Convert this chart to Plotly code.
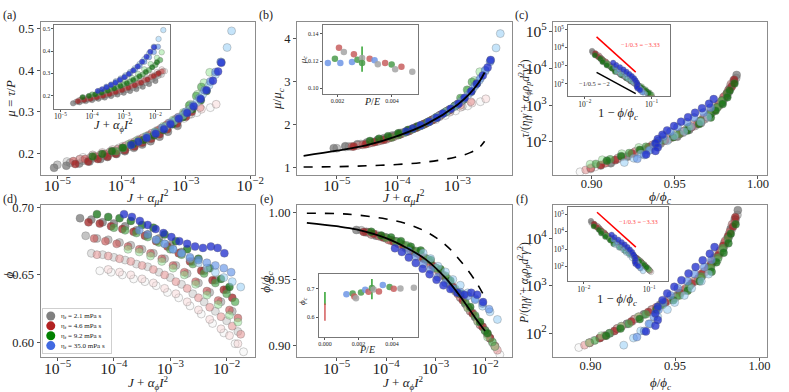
import plotly.graph_objects as go

W, H = 789, 392
FONT = "Liberation Serif"

# ---------------------------------------------------------------------------
# one run per (viscosity, confining pressure)
# xd : log10(J + a_phi I^2)   phi : packing fraction
# xa : log10(J + a_mu I^2)    mu  : tau / P
# ---------------------------------------------------------------------------
g0_xd = [-4.25, -4.05, -3.85, -3.65, -3.45, -3.25, -3.05, -2.85, -2.65, -2.45, -2.25, -2.05, -1.85, -1.7]
g0_phi = [0.653, 0.652, 0.650, 0.647, 0.645, 0.642, 0.637, 0.633, 0.627, 0.621, 0.614, 0.607, 0.599, 0.593]
g0_xa = [-4.6, -4.45, -4.3, -4.16, -4.04, -3.9, -3.78, -3.66, -3.53, -3.36, -3.2, -3.03, -2.83, -2.62]
g0_mu = [0.190, 0.195, 0.200, 0.206, 0.213, 0.221, 0.229, 0.238, 0.248, 0.259, 0.271, 0.284, 0.298, 0.310]

g1_xd = [-4.4, -4.2, -4.0, -3.8, -3.6, -3.4, -3.2, -3.0, -2.8, -2.6, -2.4, -2.2, -2.0, -1.8]
g1_phi = [0.666, 0.665, 0.663, 0.661, 0.658, 0.656, 0.652, 0.648, 0.643, 0.636, 0.630, 0.623, 0.616, 0.608]
g1_xa = [-4.85, -4.65, -4.48, -4.33, -4.19, -4.06, -3.94, -3.82, -3.71, -3.57, -3.44, -3.30, -3.12, -2.92]
g1_mu = [0.180, 0.185, 0.190, 0.196, 0.202, 0.209, 0.216, 0.224, 0.233, 0.243, 0.254, 0.266, 0.280, 0.294]

g2_xd = [-4.5, -4.3, -4.1, -3.9, -3.7, -3.5, -3.3, -3.1, -2.9, -2.7, -2.5, -2.3, -2.1, -1.9]
g2_phi = [0.679, 0.677, 0.676, 0.674, 0.672, 0.669, 0.666, 0.662, 0.657, 0.651, 0.644, 0.637, 0.630, 0.623]
g2_xa = [-5.0, -4.8, -4.6, -4.44, -4.28, -4.14, -4.02, -3.89, -3.75, -3.61, -3.48, -3.35, -3.19, -3.03]
g2_mu = [0.172, 0.177, 0.182, 0.188, 0.194, 0.201, 0.208, 0.216, 0.225, 0.234, 0.245, 0.257, 0.272, 0.289]

g3_xd = [-4.6, -4.4, -4.2, -4.0, -3.8, -3.6, -3.4, -3.2, -3.0, -2.8, -2.6, -2.4, -2.2, -2.0]
g3_phi = [0.692, 0.691, 0.689, 0.688, 0.686, 0.683, 0.680, 0.677, 0.672, 0.667, 0.660, 0.653, 0.646, 0.639]
g3_xa = [-5.05, -4.86, -4.66, -4.50, -4.33, -4.22, -4.08, -3.95, -3.81, -3.68, -3.55, -3.41, -3.28, -3.13]
g3_mu = [0.165, 0.170, 0.175, 0.180, 0.186, 0.191, 0.198, 0.205, 0.213, 0.221, 0.229, 0.240, 0.252, 0.266]

r0_xd = [-4.1, -3.9, -3.7, -3.5, -3.3, -3.1, -2.9, -2.7, -2.5, -2.3, -2.1, -1.95, -1.8]
r0_phi = [0.654, 0.652, 0.650, 0.647, 0.644, 0.640, 0.636, 0.630, 0.624, 0.617, 0.610, 0.605, 0.599]
r0_xa = [-4.45, -4.3, -4.14, -3.98, -3.85, -3.73, -3.58, -3.45, -3.3, -3.13, -2.95, -2.76, -2.53]
r0_mu = [0.196, 0.202, 0.209, 0.217, 0.225, 0.234, 0.244, 0.255, 0.267, 0.280, 0.294, 0.306, 0.318]

r1_xd = [-4.3, -4.1, -3.9, -3.7, -3.5, -3.3, -3.1, -2.9, -2.7, -2.5, -2.3, -2.1, -1.9, -1.75]
r1_phi = [0.665, 0.664, 0.662, 0.660, 0.657, 0.654, 0.650, 0.645, 0.640, 0.633, 0.626, 0.619, 0.612, 0.606]
r1_xa = [-4.65, -4.47, -4.32, -4.18, -4.06, -3.94, -3.80, -3.67, -3.53, -3.39, -3.27, -3.12, -2.95, -2.78]
r1_mu = [0.186, 0.191, 0.197, 0.203, 0.210, 0.218, 0.227, 0.237, 0.248, 0.260, 0.273, 0.287, 0.300, 0.310]

r2_xd = [-4.35, -4.15, -3.95, -3.75, -3.55, -3.35, -3.15, -2.95, -2.75, -2.55, -2.35, -2.15, -1.95, -1.8]
r2_phi = [0.677, 0.675, 0.673, 0.671, 0.669, 0.666, 0.662, 0.657, 0.652, 0.645, 0.638, 0.631, 0.624, 0.618]
r2_xa = [-4.75, -4.57, -4.41, -4.26, -4.13, -3.99, -3.85, -3.72, -3.57, -3.43, -3.30, -3.16, -3.03, -2.94]
r2_mu = [0.181, 0.186, 0.192, 0.198, 0.205, 0.213, 0.222, 0.232, 0.243, 0.255, 0.268, 0.282, 0.296, 0.308]

r3_xd = [-4.45, -4.25, -4.05, -3.85, -3.65, -3.45, -3.25, -3.05, -2.85, -2.65, -2.45, -2.25, -2.05, -1.9]
r3_phi = [0.689, 0.688, 0.686, 0.684, 0.682, 0.679, 0.675, 0.671, 0.666, 0.660, 0.653, 0.646, 0.639, 0.633]
r3_xa = [-4.72, -4.52, -4.37, -4.22, -4.09, -3.95, -3.80, -3.68, -3.54, -3.41, -3.29, -3.14, -3.0, -2.91]
r3_mu = [0.174, 0.180, 0.186, 0.192, 0.199, 0.207, 0.216, 0.225, 0.235, 0.246, 0.258, 0.272, 0.288, 0.300]

n0_xd = [-3.75, -3.55, -3.35, -3.15, -2.95, -2.75, -2.55, -2.35, -2.15, -1.95, -1.8]
n0_phi = [0.669, 0.667, 0.664, 0.660, 0.655, 0.650, 0.643, 0.635, 0.628, 0.620, 0.615]
n0_xa = [-3.88, -3.76, -3.62, -3.48, -3.35, -3.2, -3.04, -2.93, -2.82, -2.72, -2.63]
n0_mu = [0.222, 0.231, 0.241, 0.252, 0.265, 0.280, 0.298, 0.318, 0.342, 0.370, 0.395]

n1_xd = [-4.0, -3.8, -3.6, -3.4, -3.2, -3.0, -2.8, -2.6, -2.4, -2.2, -2.0, -1.85]
n1_phi = [0.685, 0.683, 0.681, 0.678, 0.674, 0.669, 0.665, 0.658, 0.651, 0.644, 0.636, 0.630]
n1_xa = [-4.09, -3.98, -3.86, -3.74, -3.59, -3.46, -3.33, -3.18, -3.02, -2.95, -2.84, -2.76]
n1_mu = [0.205, 0.212, 0.220, 0.229, 0.239, 0.250, 0.263, 0.278, 0.295, 0.315, 0.338, 0.360]

n2_xd = [-4.3, -4.1, -3.9, -3.7, -3.5, -3.3, -3.1, -2.9, -2.7, -2.5, -2.3, -2.1, -1.95]
n2_phi = [0.695, 0.693, 0.692, 0.690, 0.687, 0.685, 0.680, 0.675, 0.669, 0.662, 0.655, 0.647, 0.641]
n2_xa = [-4.45, -4.3, -4.15, -3.98, -3.82, -3.66, -3.5, -3.35, -3.21, -3.05, -2.9, -2.77, -2.68]
n2_mu = [0.192, 0.198, 0.205, 0.213, 0.222, 0.232, 0.243, 0.256, 0.270, 0.287, 0.306, 0.328, 0.350]

b0_xd = [-3.25, -3.1, -2.95, -2.8, -2.65, -2.5, -2.35, -2.2, -2.05, -1.9, -1.75]
b0_phi = [0.676, 0.673, 0.669, 0.666, 0.662, 0.659, 0.655, 0.652, 0.648, 0.645, 0.641]
b0_xa = [-3.31, -3.19, -3.05, -2.94, -2.83, -2.74, -2.64, -2.54, -2.45, -2.36, -2.29]
b0_mu = [0.265, 0.277, 0.291, 0.306, 0.323, 0.342, 0.364, 0.390, 0.420, 0.455, 0.495]

b1_xd = [-3.55, -3.4, -3.25, -3.1, -2.95, -2.8, -2.65, -2.5, -2.35, -2.2, -2.05, -1.92]
b1_phi = [0.683, 0.680, 0.676, 0.673, 0.669, 0.666, 0.663, 0.661, 0.659, 0.657, 0.655, 0.652]
b1_xa = [-3.61, -3.48, -3.37, -3.25, -3.12, -3.0, -2.89, -2.79, -2.71, -2.62, -2.54, -2.46]
b1_mu = [0.240, 0.250, 0.261, 0.273, 0.286, 0.300, 0.316, 0.333, 0.352, 0.373, 0.396, 0.420]

b2_xd = [-3.82, -3.68, -3.54, -3.40, -3.26, -3.12, -2.98, -2.84, -2.70, -2.56, -2.42, -2.28, -2.16, -2.04]
b2_phi = [0.695, 0.693, 0.690, 0.687, 0.684, 0.681, 0.678, 0.675, 0.673, 0.671, 0.670, 0.671, 0.670, 0.666]
b2_xa = [-3.85, -3.74, -3.61, -3.47, -3.34, -3.24, -3.11, -2.98, -2.88, -2.77, -2.68, -2.58, -2.50, -2.45]
b2_mu = [0.220, 0.228, 0.237, 0.247, 0.258, 0.270, 0.283, 0.297, 0.313, 0.331, 0.352, 0.375, 0.397, 0.418]

runs = [
    ("gray", 0, g0_xd, g0_phi, g0_xa, g0_mu), ("gray", 1, g1_xd, g1_phi, g1_xa, g1_mu),
    ("gray", 2, g2_xd, g2_phi, g2_xa, g2_mu), ("gray", 3, g3_xd, g3_phi, g3_xa, g3_mu),
    ("red", 0, r0_xd, r0_phi, r0_xa, r0_mu), ("red", 1, r1_xd, r1_phi, r1_xa, r1_mu),
    ("red", 2, r2_xd, r2_phi, r2_xa, r2_mu), ("red", 3, r3_xd, r3_phi, r3_xa, r3_mu),
    ("green", 0, n0_xd, n0_phi, n0_xa, n0_mu), ("green", 1, n1_xd, n1_phi, n1_xa, n1_mu),
    ("green", 2, n2_xd, n2_phi, n2_xa, n2_mu),
    ("blue", 0, b0_xd, b0_phi, b0_xa, b0_mu), ("blue", 1, b1_xd, b1_phi, b1_xa, b1_mu),
    ("blue", 2, b2_xd, b2_phi, b2_xa, b2_mu),
]
run_mu_c = [0.122, 0.121, 0.118, 0.113, 0.122, 0.122, 0.121, 0.116, 0.122, 0.120, 0.118, 0.120, 0.121, 0.119]
run_phi_c = [0.664, 0.676, 0.688, 0.701, 0.666, 0.676, 0.687, 0.699, 0.684, 0.698, 0.705, 0.697, 0.703, 0.714]

# inset (b): mu_c against P/E
pe_mu = [0.00164, 0.0019, 0.00205, 0.0021, 0.00223, 0.00253, 0.0026, 0.00273, 0.0029,
         0.0029, 0.00318, 0.00336, 0.00348, 0.00375, 0.00399, 0.00412, 0.00435, 0.00475]
mu_c_pts = [0.1187, 0.1218, 0.1298, 0.1187, 0.1267, 0.1194, 0.125, 0.1211, 0.1223,
            0.1187, 0.1218, 0.1206, 0.1177, 0.1187, 0.1175, 0.114, 0.1158, 0.1121]
mu_c_grp = ["blue", "green", "red", "blue", "gray", "blue", "red", "green", "gray",
            "green", "red", "blue", "gray", "red", "green", "gray", "red", "gray"]
mu_bar_pe, mu_bar_y, mu_bar_lo, mu_bar_hi = [0.0029], [0.1187], [0.1121], [0.1308]

# inset (e): phi_c against P/E, plus the P/E -> 0 extrapolations
pe_phi = [0.00128, 0.00165, 0.00175, 0.00185, 0.00215, 0.0024, 0.0026, 0.0028,
          0.0029, 0.00322, 0.00345, 0.00385, 0.0041, 0.0045, 0.0053]
phi_c_pts = [0.680, 0.683, 0.672, 0.666, 0.686, 0.696, 0.689, 0.702,
             0.697, 0.690, 0.712, 0.705, 0.699, 0.700, 0.703]
phi_c_grp = ["blue", "green", "red", "gray", "green", "blue", "red", "green",
             "gray", "red", "blue", "green", "red", "gray", "gray"]
phi_bar_pe, phi_bar_y, phi_bar_lo, phi_bar_hi = [0.0028], [0.702], [0.663], [0.733]
extrap_y = [0.659, 0.665, 0.622]
extrap_lo = [0.659, 0.643, 0.588]
extrap_hi = [0.659, 0.688, 0.648]

# fitted curves in (b) and (e)
fit_mu_x = [-5.55, -5.0, -4.5, -4.0, -3.5, -3.0, -2.8, -2.65, -2.55]
fit_mu_y = [1.28, 1.40, 1.53, 1.74, 2.03, 2.47, 2.72, 2.98, 3.22]
fit_mu_dash = [1.02, 1.03, 1.05, 1.08, 1.14, 1.26, 1.35, 1.46, 1.62]
fit_phi_x = [-5.6, -5.0, -4.6, -4.0, -3.6, -3.2, -2.8, -2.5, -2.2, -2.0]
fit_phi_y = [0.9926, 0.990, 0.9876, 0.981, 0.974, 0.965, 0.951, 0.937, 0.921, 0.911]
fit_phi_dash = [0.9998, 0.9995, 0.9985, 0.9955, 0.992, 0.986, 0.976, 0.964, 0.949, 0.936]

# power-law guides in the insets of (c) and (f)
guide_c_x = [0.015, 0.058]
guide_c_red = [4.0e4, 4.5e2]
guide_c_black = [4.3e2, 2.9e1]
guide_f_x = [0.0159, 0.0625]
guide_f_red = [1.26e5, 1.3e3]

legend_labels = ["η<sub>f</sub> = 2.1 mPa s", "η<sub>f</sub> = 4.6 mPa s",
                 "η<sub>f</sub> = 9.2 mPa s", "η<sub>f</sub> = 35.0 mPa s"]
legend_colors = ["#808080", "#b22222", "#008000", "#4169e1"]

palette = {
    "gray": ["rgba(235,235,235,0.30)", "rgba(200,200,200,0.55)", "rgba(160,160,160,0.62)", "rgba(115,115,115,0.72)"],
    "red": ["rgba(246,208,208,0.42)", "rgba(230,150,150,0.58)", "rgba(200,88,88,0.66)", "rgba(160,32,32,0.74)"],
    "green": ["rgba(150,228,150,0.52)", "rgba(70,165,70,0.64)", "rgba(15,110,15,0.74)"],
    "blue": ["rgba(150,205,245,0.55)", "rgba(95,145,232,0.64)", "rgba(30,45,205,0.76)"],
}
flat = {"gray": "rgba(165,165,165,0.85)", "red": "rgba(200,95,95,0.85)",
        "green": "rgba(75,155,75,0.85)", "blue": "rgba(110,150,230,0.85)"}
EDGE = "rgba(105,105,105,0.45)"

fig = go.Figure()


def px(x, y):
    return x / W, 1 - y / H


def axis_pair(n, box, xr, yr, xlog=False, ylog=False, xticks=None, yticks=None,
              xfmt=None, yfmt=None, fs=12.5, frame="#8c8c8c", showticks=True, xstand=-6):
    x0, y0, x1, y1 = box
    sx = "" if n == 1 else str(n)
    common = dict(showline=True, mirror=True, linecolor=frame, linewidth=1,
                  ticks="outside" if showticks else "", ticklen=3 if fs > 8 else 2,
                  tickwidth=0.8, tickcolor="#555", showgrid=False, zeroline=False,
                  showticklabels=showticks,
                  tickfont=dict(family=FONT, size=fs, color="#222"))
    xa = dict(domain=[x0 / W, x1 / W], range=xr, anchor="y" + sx,
              ticklabelstandoff=xstand, **common)
    ya = dict(domain=[1 - y1 / H, 1 - y0 / H], range=yr, anchor="x" + sx, **common)
    for ax, log, tv, fmt in ((xa, xlog, xticks, xfmt), (ya, ylog, yticks, yfmt)):
        if log:
            ax.update(type="log", dtick=1, exponentformat="power")
        elif tv is not None:
            ax.update(tickmode="array", tickvals=tv, tickformat=fmt)
    fig.update_layout({"xaxis" + sx: xa, "yaxis" + sx: ya})


def ref(n):
    return ("x", "y") if n == 1 else ("x%d" % n, "y%d" % n)


def dots(n, x, y, color, size=8, edge=EDGE):
    xr, yr = ref(n)
    fig.add_trace(go.Scatter(x=x, y=y, mode="markers", xaxis=xr, yaxis=yr,
                             marker=dict(size=size, color=color, line=dict(color=edge, width=0.7)),
                             showlegend=False, hoverinfo="skip"))


def curve(n, x, y, color="black", dash="solid", width=1.8, shape="spline"):
    xr, yr = ref(n)
    fig.add_trace(go.Scatter(x=x, y=y, mode="lines", xaxis=xr, yaxis=yr,
                             line=dict(color=color, width=width, dash=dash, shape=shape),
                             showlegend=False, hoverinfo="skip"))


def bars(n, x, y, lo, hi, color):
    xr, yr = ref(n)
    fig.add_trace(go.Scatter(x=x, y=y, mode="markers", xaxis=xr, yaxis=yr,
                             marker=dict(size=1, color="rgba(0,0,0,0)"),
                             error_y=dict(type="data", symmetric=False,
                                          array=[h - v for h, v in zip(hi, y)],
                                          arrayminus=[v - l for l, v in zip(lo, y)],
                                          color=color, thickness=1.4, width=0),
                             showlegend=False, hoverinfo="skip"))


# main panels and insets (insets get higher numbers so they sit on top)
axis_pair(1, (41, 17, 258, 172), [-5.26, -1.92], [0.148, 0.517], xlog=True,
          yticks=[0.2, 0.3, 0.4, 0.5], yfmt=".1f")
axis_pair(2, (300, 17, 517, 172), [-5.66, -2.10], [0.84, 4.40], xlog=True,
          yticks=[1, 2, 3, 4], yfmt="d")
axis_pair(3, (559, 17, 775, 172), [0.877, 1.0055], [1.11, 5.26], ylog=True,
          xticks=[0.90, 0.95, 1.00], xfmt=".2f")
axis_pair(4, (41, 203, 258, 357), [-5.30, -1.49], [0.5888, 0.7015], xlog=True,
          yticks=[0.60, 0.65, 0.70], yfmt=".2f")
axis_pair(5, (300, 203, 517, 357), [-5.8, -1.46], [0.891, 1.0057], xlog=True,
          yticks=[0.90, 0.95, 1.00], yfmt=".2f")
axis_pair(6, (559, 203, 775, 357), [0.878, 1.0045], [1.49, 4.70], ylog=True,
          xticks=[0.90, 0.95, 1.00], xfmt=".2f")
axis_pair(7, (55, 20, 172, 105), [-5.19, -1.53], [0.141, 0.519], xlog=True,
          yticks=[0.2, 0.3, 0.4, 0.5], yfmt=".1f", fs=6, frame="#777", xstand=-1)
axis_pair(8, (326, 20, 422, 90), [0.00145, 0.00495], [0.0959, 0.1468],
          xticks=[0.002, 0.004], xfmt=".3f", yticks=[0.10, 0.12, 0.14], yfmt=".2f",
          fs=6, frame="#777", xstand=-1)
axis_pair(9, (574, 20, 677, 92), [-2.25, -0.72], [1.34, 5.27], xlog=True, ylog=True,
          fs=6, frame="#777", xstand=-1)
axis_pair(10, (322, 272, 422, 336), [-0.00037, 0.00553], [0.533, 0.752],
          xticks=[0.0, 0.002, 0.004], xfmt=".3f", yticks=[0.6, 0.7], yfmt=".1f",
          fs=6, frame="#777", xstand=-1)
axis_pair(11, (574, 205, 675, 280), [-2.24, -0.71], [1.16, 5.38], xlog=True, ylog=True,
          fs=6, frame="#777", xstand=-1)
axis_pair(12, (43, 308, 112, 353), [0, 1], [3.8, -0.7], frame="#cfcfcf", showticks=False, xstand=0)

for (grp, lvl, xd, ph, xa, mu), mc, pc in zip(runs, run_mu_c, run_phi_c):
    col = palette[grp][lvl]
    xd_lin = [10 ** v for v in xd]
    xa_lin = [10 ** v for v in xa]
    ratio = [p / pc for p in ph]                      # phi / phi_c
    gap = [1 - r for r in ratio]                      # 1 - phi / phi_c
    p_scaled = [1 / x for x in xd_lin]                # P/(eta gd + a rho d^2 gd^2) = 1/(J + a I^2)
    t_scaled = [m / x for m, x in zip(mu, xd_lin)]    # tau/(...) = mu P/(...)
    dots(1, xa_lin, mu, col)
    dots(2, xa_lin, [m / mc for m in mu], col)
    dots(3, ratio, t_scaled, col)
    dots(4, xd_lin, ph, col)
    dots(5, xd_lin, ratio, col)
    dots(6, ratio, p_scaled, col)
    dots(7, xd_lin, mu, col, size=5.5)
    dots(9, gap, t_scaled, col, size=5.5)
    dots(11, gap, p_scaled, col, size=5.5)

# fits
curve(2, [10 ** v for v in fit_mu_x], fit_mu_y)
curve(2, [10 ** v for v in fit_mu_x], fit_mu_dash, dash="dash", width=1.6)
curve(5, [10 ** v for v in fit_phi_x], fit_phi_y)
curve(5, [10 ** v for v in fit_phi_x], fit_phi_dash, dash="dash", width=1.6)

# inset (b)
bars(8, mu_bar_pe, mu_bar_y, mu_bar_lo, mu_bar_hi, "#1f9a1f")
dots(8, pe_mu, mu_c_pts, [flat[g] for g in mu_c_grp], size=6.5, edge="rgba(0,0,0,0)")

# inset (e)
bars(10, phi_bar_pe + [0], phi_bar_y + [extrap_y[1]], phi_bar_lo + [extrap_lo[1]],
     phi_bar_hi + [extrap_hi[1]], "#1f9a1f")
bars(10, [0], [extrap_y[2]], [extrap_lo[2]], [extrap_hi[2]], "#d05050")
dots(10, pe_phi, phi_c_pts, [flat[g] for g in phi_c_grp], size=6.5, edge="rgba(0,0,0,0)")
fig.add_trace(go.Scatter(x=[0, 0, 0], y=extrap_y, mode="markers", xaxis="x10", yaxis="y10",
                         marker=dict(size=7, color="rgba(255,255,255,0)", symbol="circle-open",
                                     line=dict(color=["#4169e1", "#1f9a1f", "#d03030"], width=1)),
                         showlegend=False, hoverinfo="skip"))

# power-law guides
curve(9, guide_c_x, guide_c_red, color="red", width=1.5, shape="linear")
curve(9, guide_c_x, guide_c_black, color="black", width=1.5, shape="linear")
curve(11, guide_f_x, guide_f_red, color="red", width=1.5, shape="linear")

# legend of panel (d)
dots(12, [0.12] * 4, [0, 1, 2, 3], legend_colors, size=9, edge="rgba(0,0,0,0)")

ann = []


def text(x, y, s, size=13, angle=0, color="#222", anchor="center", yanchor="middle"):
    ax, ay = px(x, y)
    ann.append(dict(x=ax, y=ay, xref="paper", yref="paper", text=s, showarrow=False,
                    textangle=angle, xanchor=anchor, yanchor=yanchor,
                    font=dict(family=FONT, size=size, color=color)))


for i, lab in enumerate(legend_labels):
    ann.append(dict(x=0.24, y=i, xref="x12", yref="y12", text=lab, showarrow=False,
                    xanchor="left", yanchor="middle", font=dict(family=FONT, size=7, color="#222")))

J_MU = "<i>J</i> + <i>α</i><sub><i>μ</i></sub><i>I</i><sup>2</sup>"
J_PHI = "<i>J</i> + <i>α</i><sub><i>ϕ</i></sub><i>I</i><sup>2</sup>"
PHI_R = "<i>ϕ</i>/<i>ϕ</i><sub><i>c</i></sub>"
DEN = ("(<i>η</i><sub><i>f</i></sub><i>γ̇</i> + <i>α</i><sub><i>ϕ</i></sub><i>ρ</i><sub><i>p</i></sub>"
       "<i>d</i><sup>2</sup><i>γ̇</i><sup>2</sup>)")

text(10, 10, "(a)", 12)
text(269, 10, "(b)", 12)
text(527, 10, "(c)", 12)
text(10, 197, "(d)", 12)
text(269, 197, "(e)", 12)
text(527, 197, "(f)", 12)

text(150, 195, J_MU, 13.5)
text(408, 195, J_MU, 13.5)
text(667, 195, PHI_R, 13.5)
text(150, 383, J_PHI, 13)
text(408, 383, J_PHI, 13)
text(667, 383, PHI_R, 13)

text(11, 95, "<i>μ</i> = <i>τ</i>/<i>P</i>", angle=-90)
text(281, 95, "<i>μ</i>/<i>μ</i><sub><i>c</i></sub>", angle=-90)
text(530, 95, "<i>τ</i>/" + DEN, 11.5, angle=-90)
text(9, 273, "<i>ϕ</i>", angle=-90)
text(269, 281, PHI_R, angle=-90)
text(530, 282, "<i>P</i>/" + DEN, 11.5, angle=-90)

text(115, 122, J_PHI, 12.5)
text(376, 98, "<i>P</i>/<i>E</i>", 10)
text(306, 55, "<i>μ</i><sub><i>c</i></sub>", 9, angle=-90)
text(624, 110, "1 − " + PHI_R, 12.5)
text(623, 299, "1 − " + PHI_R, 12.5)
text(371, 349, "<i>P</i>/<i>E</i>", 10)
text(305, 300, "<i>ϕ</i><sub><i>c</i></sub>", 9, angle=-90)

text(647, 40, "−1/0.3 = −3.33", 6.5, color="#ff5050")
text(601, 80, "−1/0.5 = −2", 6.5, color="#333")
text(645, 219, "−1/0.3 = −3.33", 6.5, color="#ff5050")

fig.update_layout(width=W, height=H, margin=dict(l=0, r=0, t=0, b=0),
                  paper_bgcolor="white", plot_bgcolor="white", showlegend=False,
                  annotations=ann, font=dict(family=FONT))

# the page body has a default 8px margin; drop it so the figure fills the window
fig.write_html("out.html", config={"displayModeBar": False},
               post_script="document.body.style.margin='0';")
